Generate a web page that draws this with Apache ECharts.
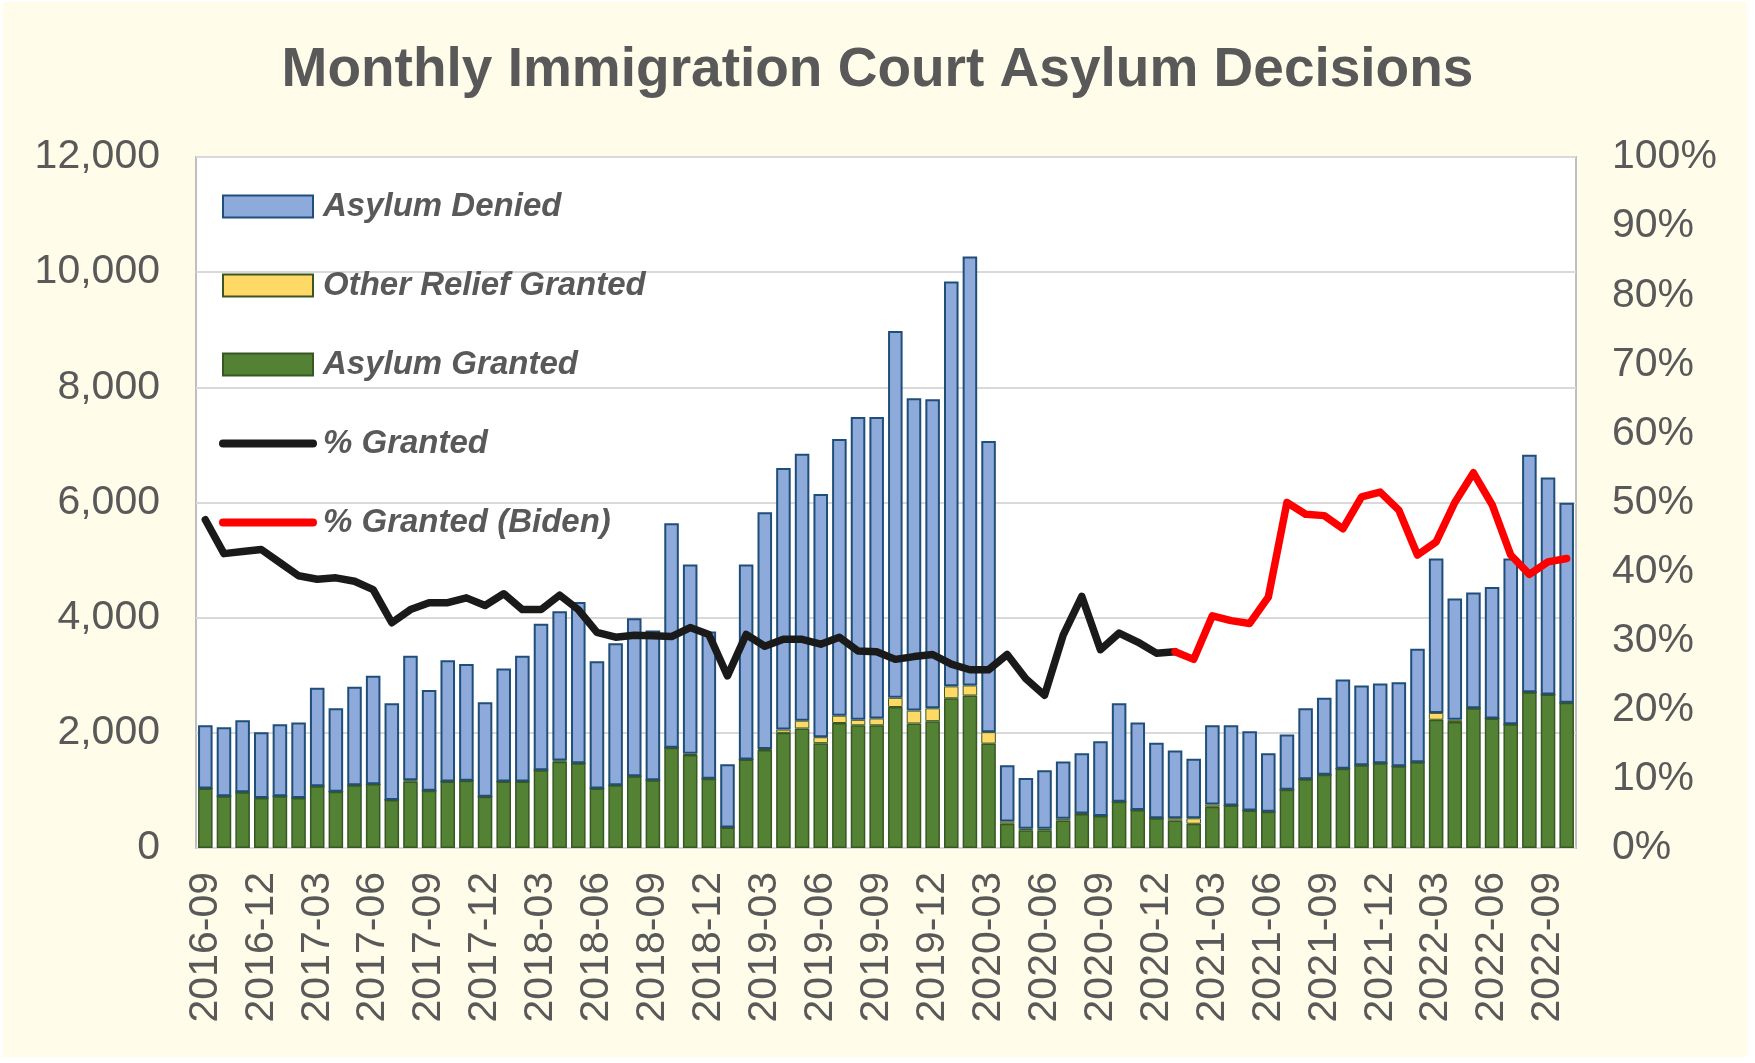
<!DOCTYPE html>
<html>
<head>
<meta charset="utf-8">
<script src="https://cdn.jsdelivr.net/npm/echarts@6/dist/echarts.min.js"></script>
<style>
html,body{margin:0;padding:0;background:#ffffff;}
#chart{width:1755px;height:1063px;}
</style>
</head>
<body>
<div id="chart"></div>
<script>
const months = ['2016-09','2016-10','2016-11','2016-12','2017-01','2017-02','2017-03','2017-04','2017-05','2017-06','2017-07','2017-08','2017-09','2017-10','2017-11','2017-12','2018-01','2018-02','2018-03','2018-04','2018-05','2018-06','2018-07','2018-08','2018-09','2018-10','2018-11','2018-12','2019-01','2019-02','2019-03','2019-04','2019-05','2019-06','2019-07','2019-08','2019-09','2019-10','2019-11','2019-12','2020-01','2020-02','2020-03','2020-04','2020-05','2020-06','2020-07','2020-08','2020-09','2020-10','2020-11','2020-12','2021-01','2021-02','2021-03','2021-04','2021-05','2021-06','2021-07','2021-08','2021-09','2021-10','2021-11','2021-12','2022-01','2022-02','2022-03','2022-04','2022-05','2022-06','2022-07','2022-08','2022-09','2022-10'];

const asylumGranted = [1034,899,970,867,899,867,1074,978,1089,1105,835,1155,994,1153,1169,891,1153,1153,1352,1500,1471,1034,1089,1248,1177,1742,1615,1201,358,1535,1700,2000,2076,1821,2171,2131,2131,2449,2163,2203,2600,2648,1813,421,310,310,477,590,557,803,660,517,477,421,716,740,652,628,1010,1193,1272,1376,1439,1471,1420,1487,2227,2187,2425,2250,2147,2704,2664,2521];

const otherRelief = [0,0,0,0,0,0,0,0,0,0,0,20,0,0,0,0,0,0,0,20,0,0,0,0,0,0,20,0,0,0,20,56,135,103,127,95,119,159,223,223,207,175,199,40,24,24,32,10,0,0,0,0,40,95,40,0,0,0,0,0,0,0,0,0,0,0,119,40,0,0,0,0,0,0];

const asylumDenied = [1097,1200,1249,1145,1248,1312,1709,1447,1710,1885,1678,2165,1749,2107,2028,1638,1964,2187,2544,2591,2799,2210,2466,2744,2600,3896,3287,2560,1097,3387,4109,4544,4636,4223,4803,5257,5233,6370,5423,5367,7030,7451,5057,978,883,1018,994,1046,1296,1710,1519,1312,1177,1035,1375,1391,1376,1018,962,1232,1336,1550,1384,1384,1459,1972,2680,2107,2012,2283,2879,4127,3769,3475];

// % granted (through 2021-01)
const pctGranted = [47.5,42.6,42.9,43.2,41.3,39.4,38.9,39.1,38.6,37.4,32.6,34.5,35.5,35.5,36.2,35.1,36.8,34.5,34.5,36.6,34.5,31.2,30.5,30.8,30.7,30.6,31.9,30.9,24.9,30.9,29.2,30.2,30.2,29.5,30.5,28.5,28.4,27.3,27.7,28.0,26.6,25.8,25.8,28.0,24.5,22.1,30.8,36.4,28.7,31.1,29.8,28.2,28.4];

// % granted (Biden), from 2021-01 on
const pctGrantedBiden = [28.4,27.3,33.6,32.9,32.5,36.3,50.0,48.3,48.1,46.2,50.8,51.5,48.9,42.4,44.3,50.0,54.3,49.7,42.4,39.6,41.4,41.9];

const leftTicks = {min:0, max:12000, interval:2000};
const rightTicks = {min:0, max:100, interval:10};

const bidenStart = months.indexOf('2021-01');
const blackLine = months.map((m,i)=> i < pctGranted.length ? pctGranted[i] : null);
const redLine = months.map((m,i)=> i >= bidenStart ? pctGrantedBiden[i-bidenStart] : null);

const txt = '#595959';
const font = 'Liberation Sans, Arial, Helvetica, sans-serif';

const chart = echarts.init(document.getElementById('chart'), null, {renderer:'canvas'});
chart.setOption({
  backgroundColor:'#ffffff',
  animation:false,
  graphic:[{type:'rect', z:-10, silent:true, shape:{x:3,y:2,width:1744,height:1055}, style:{fill:'#fffce9'}}],
  title:{
    text:'Monthly Immigration Court Asylum Decisions',
    left:'center', top:38,
    textStyle:{fontFamily:font, fontWeight:'bold', fontSize:55, color:txt}
  },
  legend:{
    orient:'vertical', left:219, top:190, padding:0,
    itemWidth:90, itemHeight:22, itemGap:46,
    textStyle:{fontFamily:font, fontWeight:'bold', fontStyle:'italic', fontSize:33, color:txt, padding:[0,0,0,5]},
    lineStyle:{width:8, cap:'round'},
    data:[
      {name:'Asylum Denied', icon:'rect'},
      {name:'Other Relief Granted', icon:'rect'},
      {name:'Asylum Granted', icon:'rect'},
      {name:'% Granted', itemStyle:{opacity:0}},
      {name:'% Granted (Biden)', itemStyle:{opacity:0}}
    ]
  },
  grid:{
    left:196, right:179, top:157, bottom:215,
    show:true, backgroundColor:'#ffffff', borderColor:'#bfbfbf', borderWidth:2, containLabel:false
  },
  xAxis:{
    type:'category', data:months,
    axisLine:{show:false}, axisTick:{show:false},
    axisLabel:{interval:2, rotate:90, margin:24, fontFamily:font, fontSize:41, color:txt}
  },
  yAxis:[
    {type:'value', min:leftTicks.min, max:leftTicks.max, interval:leftTicks.interval,
     axisLine:{show:false}, axisTick:{show:false},
     splitLine:{lineStyle:{color:'#d9d9d9', width:2}},
     axisLabel:{margin:36, fontFamily:font, fontSize:41, color:txt,
       formatter:v=>v.toLocaleString('en-US')}},
    {type:'value', min:rightTicks.min, max:rightTicks.max, interval:rightTicks.interval, position:'right',
     axisLine:{show:false}, axisTick:{show:false}, splitLine:{show:false},
     axisLabel:{margin:36, fontFamily:font, fontSize:41, color:txt, formatter:'{value}%'}}
  ],
  series:[
    {name:'Asylum Granted', type:'bar', stack:'t', data:asylumGranted, barCategoryGap:'22%',
     itemStyle:{color:'#548235', borderColor:'#385723', borderWidth:1.5}},
    {name:'Other Relief Granted', type:'bar', stack:'t', data:otherRelief,
     itemStyle:{color:'#ffd966', borderColor:'#385723', borderWidth:1}},
    {name:'Asylum Denied', type:'bar', stack:'t', data:asylumDenied,
     itemStyle:{color:'#8eaadb', borderColor:'#1f4e79', borderWidth:2}},
    {name:'% Granted', type:'line', yAxisIndex:1, data:blackLine, symbol:'none', connectNulls:false,
     lineStyle:{color:'#1a1a1a', width:7.5, cap:'round', join:'round'}, itemStyle:{color:'#1a1a1a'}, z:5},
    {name:'% Granted (Biden)', type:'line', yAxisIndex:1, data:redLine, symbol:'none', connectNulls:false,
     lineStyle:{color:'#ff0000', width:7.5, cap:'round', join:'round'}, itemStyle:{color:'#ff0000'}, z:5}
  ]
});
</script>
</body>
</html>
